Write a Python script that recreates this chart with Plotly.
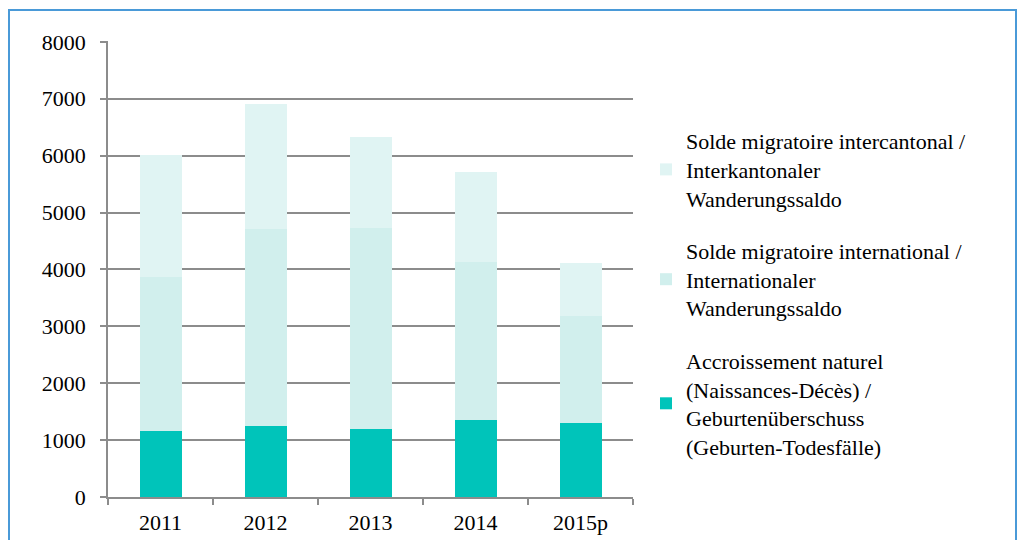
import plotly.graph_objects as go

years = ["2011", "2012", "2013", "2014", "2015p"]
natural = [1160, 1250, 1190, 1350, 1305]
international = [2700, 3455, 3535, 2780, 1870]
intercantonal = [2160, 2205, 1610, 1575, 945]
y_ticks = [0, 1000, 2000, 3000, 4000, 5000, 6000, 7000, 8000]

names = [
    "Accroissement naturel<br>(Naissances-Décès) /<br>Geburtenüberschuss<br>(Geburten-Todesfälle)",
    "Solde migratoire international /<br>Internationaler<br>Wanderungssaldo",
    "Solde migratoire intercantonal /<br>Interkantonaler<br>Wanderungssaldo",
]
colors = ["#00C4BA", "#D1EFED", "#E0F4F3"]
ranks = [3, 2, 1]
series = [natural, international, intercantonal]

fig = go.Figure()
for i, (vals, nm, col, rk) in enumerate(zip(series, names, colors, ranks)):
    fig.add_trace(go.Bar(x=years, y=vals, name=nm, marker=dict(color=col, line=dict(width=0)),
                         legendgroup=f"g{i}", legendrank=rk))

W, H = 1019, 540
L, R, T, B = 108, 633, 41, 497
pw, ph = R - L, B - T

def px_x(p):
    return (p - L) / pw

def px_y(p):
    return (B - p) / ph

font = "Times New Roman"
fs = 22
fig.update_layout(
    width=W, height=H,
    margin=dict(l=L, r=W - R, t=T, b=H - B, pad=0, autoexpand=False),
    barmode="stack", bargap=0.6,
    plot_bgcolor="white", paper_bgcolor="white",
    font=dict(family=font, size=fs, color="#000000"),
    legend=dict(
        x=px_x(646), y=px_y(120), xanchor="left", yanchor="top",
        traceorder="grouped", tracegroupgap=21,
        font=dict(family=font, size=fs, color="#000000"),
        bgcolor="rgba(0,0,0,0)",
    ),
    xaxis=dict(
        type="category", showline=True, linecolor="#8C8C8C", linewidth=1.5,
        ticks="outside", ticklen=6, tickcolor="#8C8C8C", tickwidth=1.5,
        tickson="boundaries", showgrid=False, ticklabelstandoff=5, automargin=False,
        tickfont=dict(family=font, size=fs, color="#000"),
    ),
    yaxis=dict(
        range=[0, 8015], tickvals=y_ticks, showline=True, linecolor="#8C8C8C", linewidth=1.5,
        ticks="outside", ticklen=6, tickcolor="#8C8C8C", tickwidth=1.5,
        showgrid=True, gridcolor="#8C8C8C", gridwidth=1.5, zeroline=False,
        ticklabelstandoff=10, automargin=False,
        tickfont=dict(family=font, size=fs, color="#000"),
    ),
    shapes=[
        dict(type="rect", xref="paper", yref="paper",
             x0=px_x(9), x1=px_x(1016), y0=px_y(570), y1=px_y(10),
             line=dict(color="#4A9AD8", width=2), fillcolor="rgba(0,0,0,0)", layer="below"),
    ],
)

fig.write_html(
    "out.html",
    config={"displayModeBar": False},
    post_script="document.body.style.margin='0px';document.body.style.overflow='hidden';",
)
